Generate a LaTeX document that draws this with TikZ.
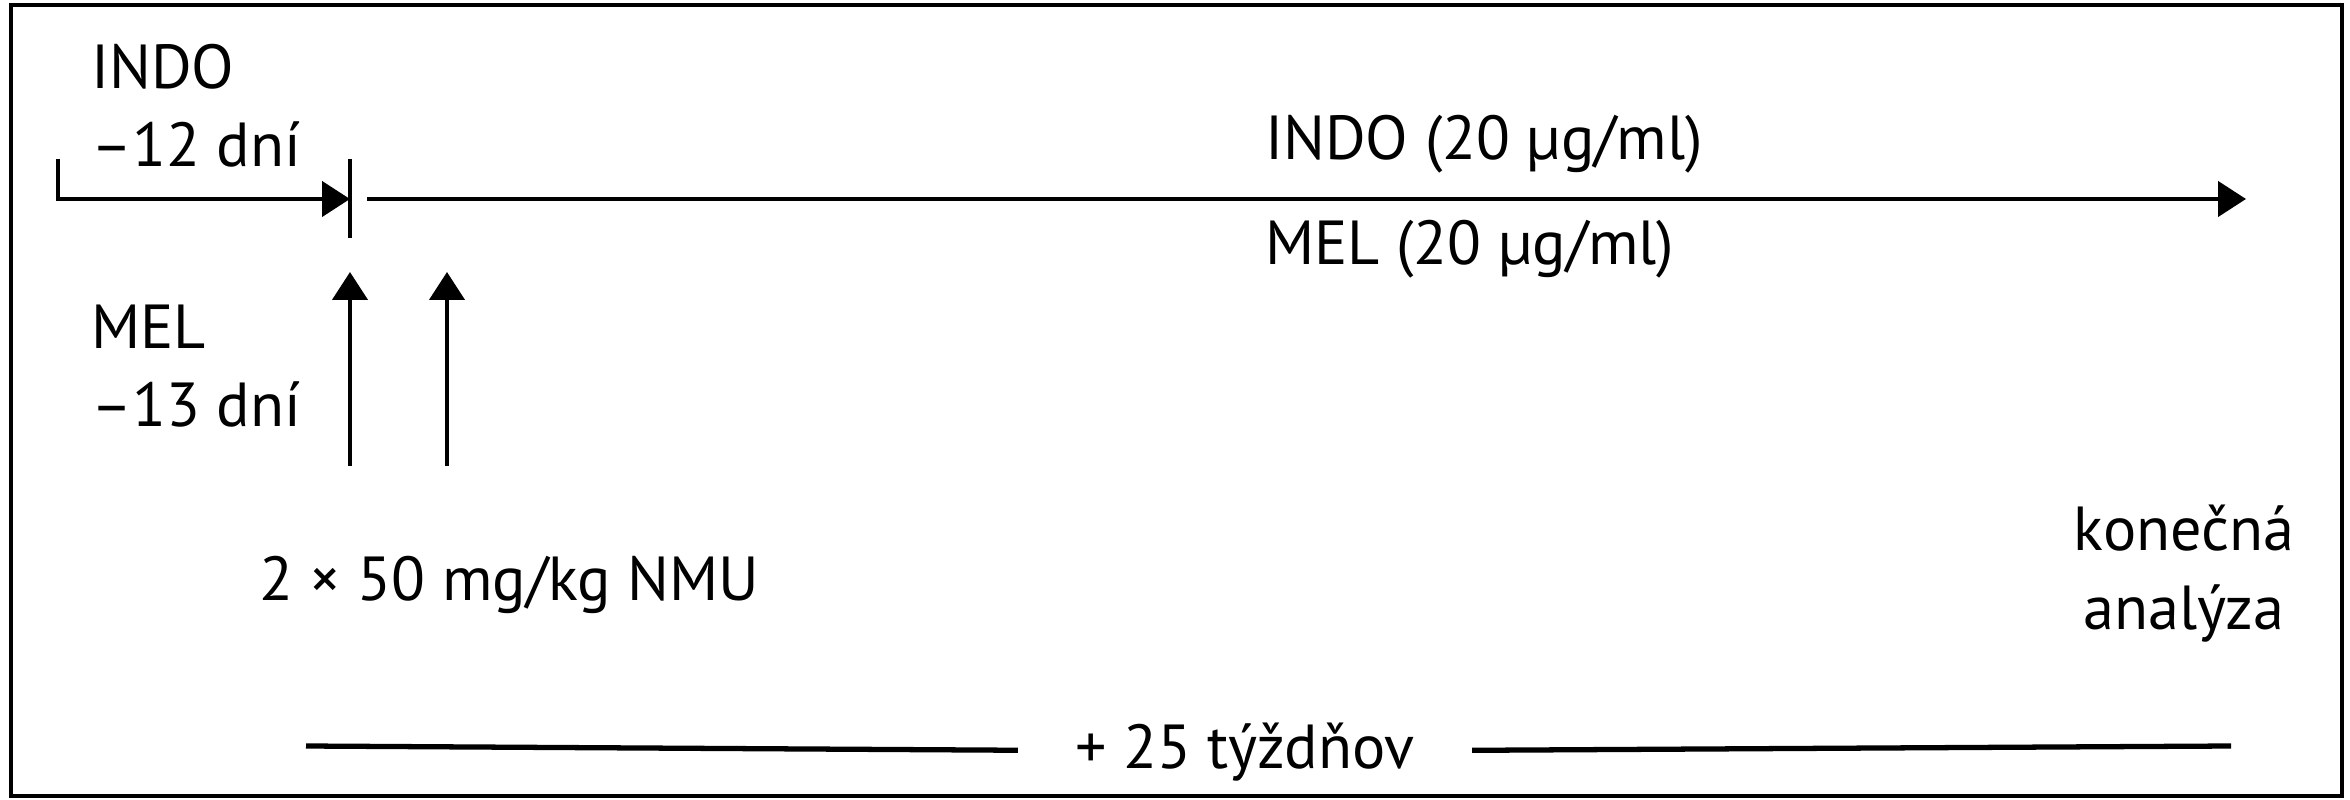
\documentclass[tikz,border=0pt]{standalone}
\usepackage{fontspec}
\setmainfont{PT Sans}
\usetikzlibrary{arrows.meta}
\usetikzlibrary{positioning}

\begin{document}
\begin{tikzpicture}[>={Triangle[length=0.28cm,width=0.35cm]},line width=1.25pt,
                    lbl/.style={inner sep=0pt,font=\fontsize{17.7}{22.2}\selectfont}]

  \useasboundingbox (0,0) rectangle (23.5,-8);
  \draw[line width=0.9pt] (0.11,-0.05) rectangle (23.42,-7.96);

  % left labels
  \node[lbl,align=left,anchor=base west] (indo) at (0.89,-1.67) {INDO\\–12 dní};
  \node[lbl,align=left,anchor=base west] (mel) at (0.89,-4.27) {MEL\\–13 dní};

  % time line
  \coordinate (start) at (0.58,-1.59);
  \coordinate (day0) at (3.50,-1.99);
  \coordinate (cont) at (3.67,-1.99);
  \coordinate (stop) at (22.46,-1.99);
  \draw[->] (start) |- (day0);
  \draw (3.50,-1.59) -- (3.50,-2.38);
  \draw[->] (cont) -- (stop);

  \node[lbl,anchor=base west] (indoDose) at (12.63,-1.60) {INDO (20 µg/ml)};
  \node[lbl,anchor=base west] (melDose) at (12.63,-2.65) {MEL (20 µg/ml)};

  % NMU doses
  \node[lbl,anchor=base west] (nmu) at (2.57,-6.00) {2 × 50 mg/kg NMU};
  \coordinate (dose1) at (3.50,-4.66);
  \coordinate (dose2) at (4.47,-4.66);
  \draw[->] (dose1) -- ++(0,1.94);
  \draw[->] (dose2) -- ++(0,1.94);

  \node[lbl,align=center,anchor=base] (final) at (21.84,-6.29) {konečná\\analýza};

  % duration
  \node[lbl,inner xsep=0.55cm,anchor=base] (weeks) at (12.45,-7.68) {+ 25 týždňov};
  \coordinate (wl) at (3.06,-7.46);
  \coordinate (wr) at (22.31,-7.46);
  \draw[line width=1.5pt] (wl) -- (weeks) -- (wr);
\end{tikzpicture}
\end{document}
